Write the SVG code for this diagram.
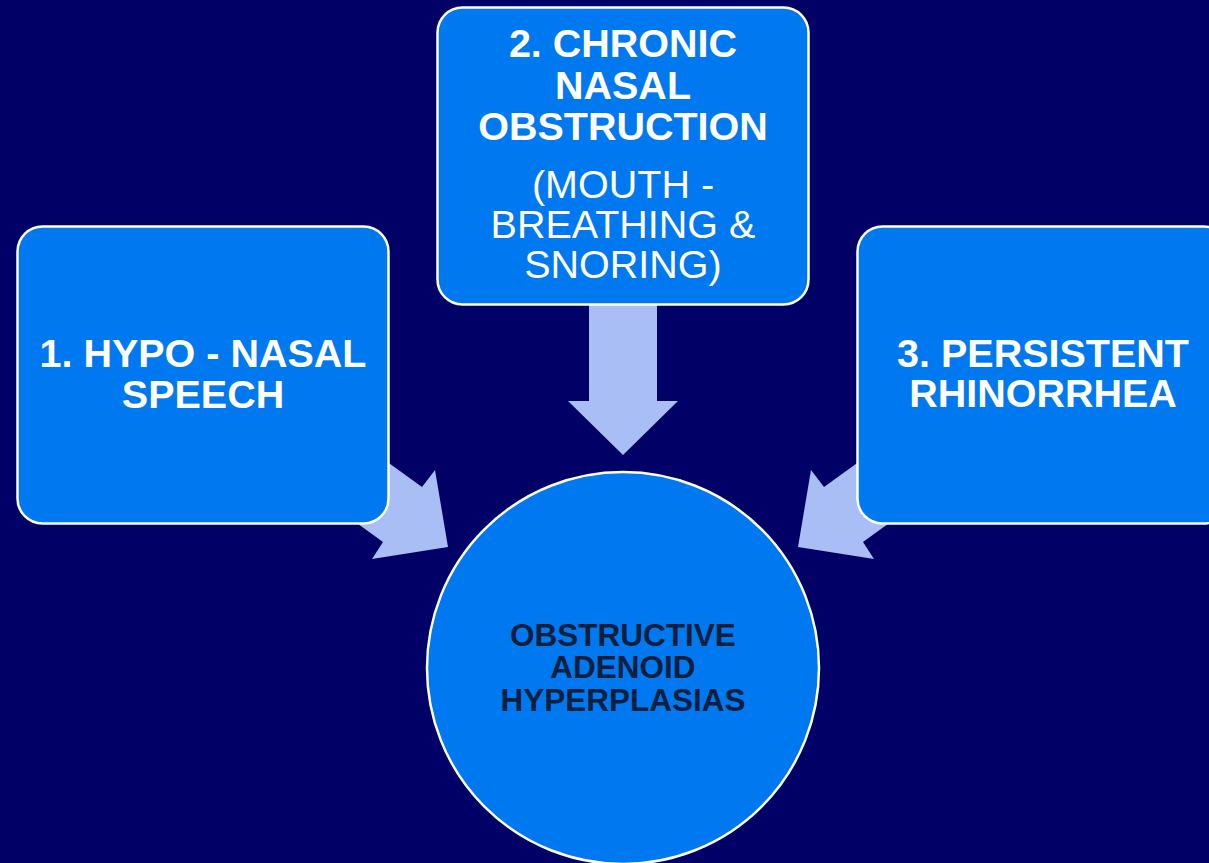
<svg xmlns="http://www.w3.org/2000/svg" width="1209" height="863" viewBox="0 0 1209 863">
<style>
.box{fill:#0078f0;stroke:#ffffff;stroke-width:2.5}
.arrow{fill:#a8bef4;stroke:none}
.t{font-family:"Liberation Sans",Arial,sans-serif;fill:#ffffff;text-anchor:middle}
.b{font-weight:bold;font-size:39.5px}
.r{font-size:39.5px}
.c{font-family:"Liberation Sans",Arial,sans-serif;fill:#0d1f3c;text-anchor:middle;font-weight:bold;font-size:31.5px}
</style>
<rect width="1209" height="863" fill="#000066"/>
<g id="connectors">
<polygon class="arrow" points="589,280 657,280 657,401 678,401 623,455 568,401 589,401"/>
<polygon class="arrow" points="448,547 435,470 422,487 357,440 318,495 383,542 372,559"/>
<polygon class="arrow" points="798,547 811,470 824,487 889,440 928,495 863,542 874,559"/>
</g>
<g id="node-top">
<rect class="box" x="437.5" y="7.5" width="371" height="297" rx="25"/>
<text class="t b" x="623" y="57">2. CHRONIC</text>
<text class="t b" x="623" y="99">NASAL</text>
<text class="t b" x="623" y="140">OBSTRUCTION</text>
<text class="t r" x="623" y="198">(MOUTH -</text>
<text class="t r" x="623" y="238">BREATHING &amp;</text>
<text class="t r" x="623" y="278">SNORING)</text>
</g>
<g id="node-left">
<rect class="box" x="17.5" y="226.5" width="371" height="297" rx="25"/>
<text class="t b" x="203" y="367">1. HYPO - NASAL</text>
<text class="t b" x="203" y="408">SPEECH</text>
</g>
<g id="node-right">
<rect class="box" x="857.5" y="226.5" width="371" height="297" rx="25"/>
<text class="t b" x="1043" y="367">3. PERSISTENT</text>
<text class="t b" x="1043" y="407">RHINORRHEA</text>
</g>
<g id="node-center">
<circle class="box" cx="623" cy="668" r="196"/>
<text class="c" x="623" y="646">OBSTRUCTIVE</text>
<text class="c" x="623" y="678">ADENOID</text>
<text class="c" x="623" y="711">HYPERPLASIAS</text>
</g>
</svg>
